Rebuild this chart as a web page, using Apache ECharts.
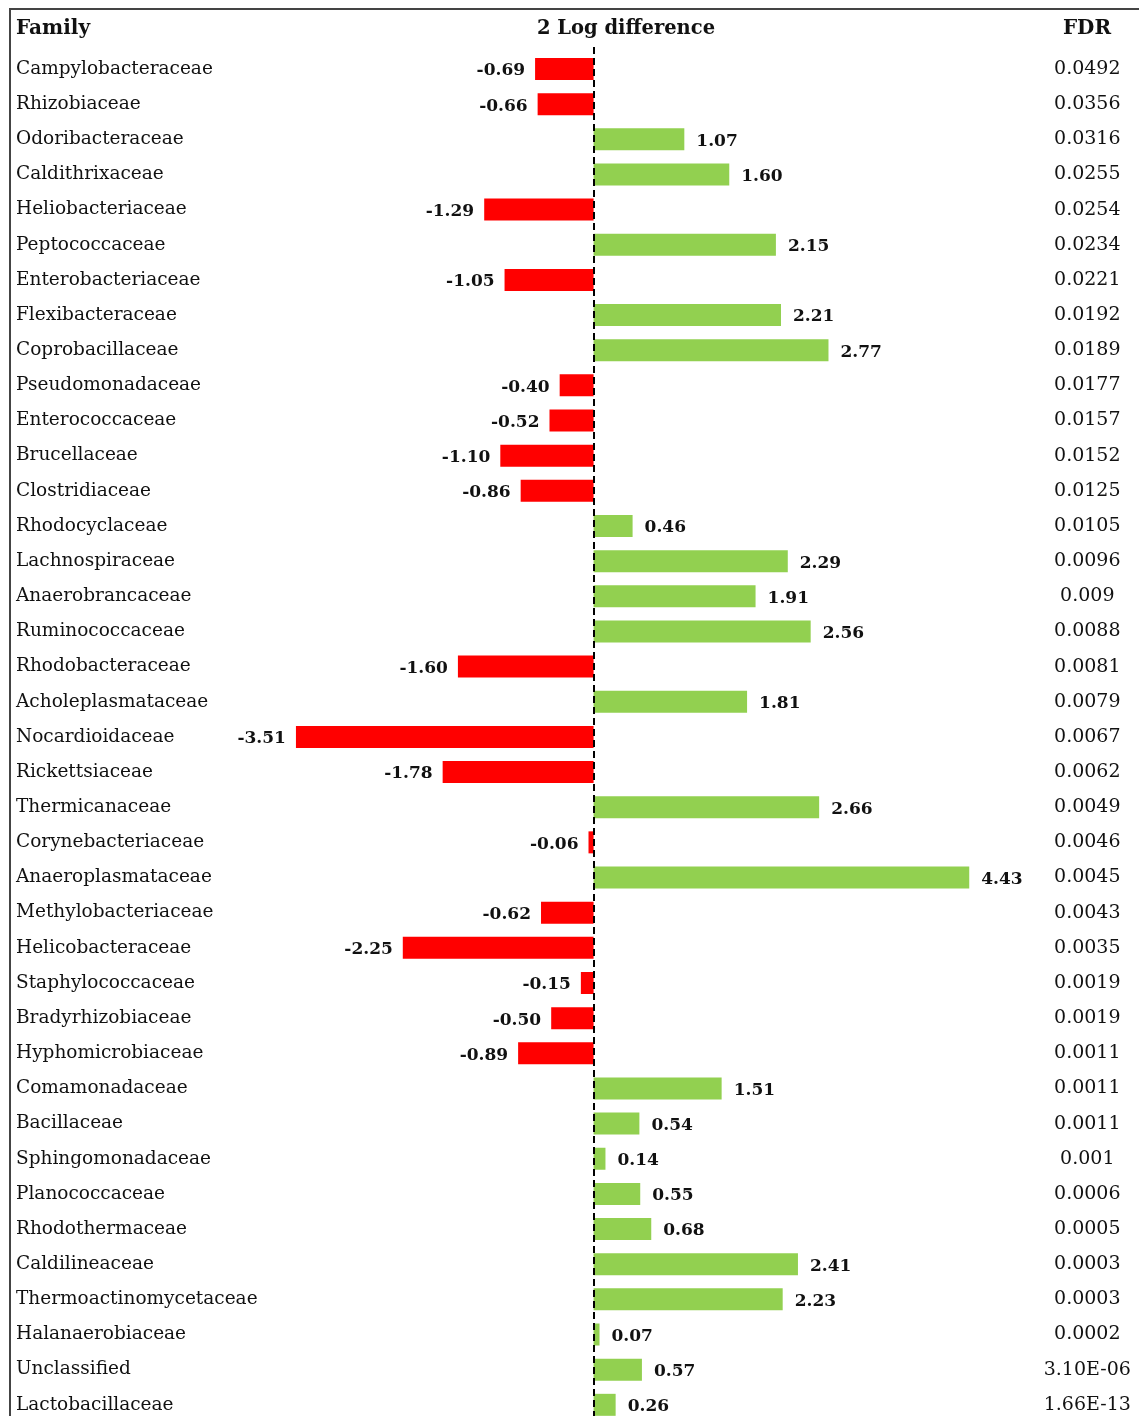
<!DOCTYPE html>
<html>
<head>
<meta charset="utf-8">
<script src="https://cdn.jsdelivr.net/npm/echarts@6/dist/echarts.min.js"></script>
<style>
html,body{margin:0;padding:0;background:#fff;overflow:hidden;}
#c{width:1139px;height:1425px;}
</style>
</head>
<body>
<div id="c"></div>
<script>
const families = ["Campylobacteraceae","Rhizobiaceae","Odoribacteraceae","Caldithrixaceae","Heliobacteriaceae","Peptococcaceae","Enterobacteriaceae","Flexibacteraceae","Coprobacillaceae","Pseudomonadaceae","Enterococcaceae","Brucellaceae","Clostridiaceae","Rhodocyclaceae","Lachnospiraceae","Anaerobrancaceae","Ruminococcaceae","Rhodobacteraceae","Acholeplasmataceae","Nocardioidaceae","Rickettsiaceae","Thermicanaceae","Corynebacteriaceae","Anaeroplasmataceae","Methylobacteriaceae","Helicobacteraceae","Staphylococcaceae","Bradyrhizobiaceae","Hyphomicrobiaceae","Comamonadaceae","Bacillaceae","Sphingomonadaceae","Planococcaceae","Rhodothermaceae","Caldilineaceae","Thermoactinomycetaceae","Halanaerobiaceae","Unclassified","Lactobacillaceae"];
const logDiff = [-0.69,-0.66,1.07,1.60,-1.29,2.15,-1.05,2.21,2.77,-0.40,-0.52,-1.10,-0.86,0.46,2.29,1.91,2.56,-1.60,1.81,-3.51,-1.78,2.66,-0.06,4.43,-0.62,-2.25,-0.15,-0.50,-0.89,1.51,0.54,0.14,0.55,0.68,2.41,2.23,0.07,0.57,0.26];
const fdr = ["0.0492","0.0356","0.0316","0.0255","0.0254","0.0234","0.0221","0.0192","0.0189","0.0177","0.0157","0.0152","0.0125","0.0105","0.0096","0.009","0.0088","0.0081","0.0079","0.0067","0.0062","0.0049","0.0046","0.0045","0.0043","0.0035","0.0019","0.0019","0.0011","0.0011","0.0011","0.001","0.0006","0.0005","0.0003","0.0003","0.0002","3.10E-06","1.66E-13"];
const headers = ["Family","2 Log difference","FDR"];

const SERIF = '"DejaVu Serif", "Liberation Serif", serif';
const chart = echarts.init(document.getElementById('c'));
const data = logDiff.map(v => ({
  value: v,
  itemStyle: {color: v < 0 ? '#FF0000' : '#92D050'},
  label: {position: v < 0 ? 'left' : 'right', distance: v < 0 ? 10 : 12}
}));
chart.setOption({
  animation: false,
  graphic: [
    {type:'rect', shape:{x:10, y:9, width:1200, height:1500}, style:{fill:'none', stroke:'#444', lineWidth:2}, z:0},
    {type:'text', left:16, top:19, style:{text:headers[0], font:'bold 20px ' + SERIF, fill:'#111'}},
    {type:'text', x:626, y:19, style:{text:headers[1], font:'bold 19.5px ' + SERIF, fill:'#111', align:'center'}},
    {type:'text', x:1087, y:19, style:{text:headers[2], font:'bold 20px ' + SERIF, fill:'#111', align:'center'}}
  ],
  grid: {left: 0, top: 51.4, width: 1136.3, height: 1371, containLabel: false},
  xAxis: {type:'value', min:-7, max:6.4, show:false},
  yAxis: [
    {type:'category', data: families, inverse: true, position:'left',
     axisLine:{show:false, onZero:false}, axisTick:{show:false}, splitLine:{show:false},
     axisLabel:{align:'left', margin:-16, fontFamily: SERIF, fontSize:18.5, color:'#111', interval:0}},
    {type:'category', data: families, inverse: true, position:'right',
     axisLine:{show:false, onZero:false}, axisTick:{show:false}, splitLine:{show:false},
     axisLabel:{align:'center', margin:-49, fontFamily: SERIF, fontSize:19, color:'#111', interval:0,
       formatter: (v, i) => fdr[i]}}
  ],
  series: [{
    type:'bar', data: data, barWidth: 22, yAxisIndex: 0,
    label: {show:true, fontFamily: SERIF, fontWeight:'bold', fontSize:17, color:'#111', offset:[0,2],
      formatter: p => p.value.toFixed(2)},
    markLine: {silent:true, symbol:'none', label:{show:false},
      lineStyle:{color:'#000', type:[7,4], width:2},
      data:[[{x:594, y:47}, {x:594, y:1425}]]},
    z: 2
  }]
});
</script>
</body>
</html>
